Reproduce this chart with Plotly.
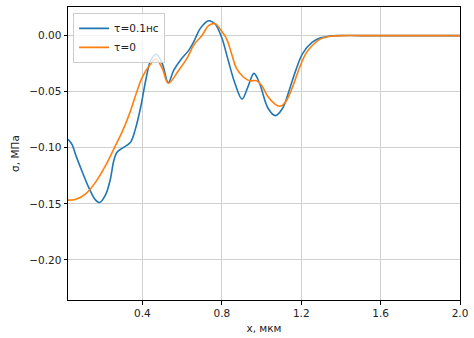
import plotly.graph_objects as go

# τ=0.1нс (blue)
x_blue = [0.025, 0.045, 0.065, 0.098, 0.131, 0.164, 0.184, 0.214, 0.239, 0.255, 0.272, 0.297,
          0.339, 0.364, 0.392, 0.417, 0.442, 0.47, 0.5, 0.53, 0.558, 0.595, 0.633, 0.66, 0.69,
          0.733, 0.766, 0.799, 0.832, 0.866, 0.902, 0.932, 0.962, 0.99, 1.032, 1.07, 1.107,
          1.14, 1.173, 1.207, 1.256, 1.298, 1.34, 1.38, 1.5, 1.7, 2.0]
y_blue = [-0.0924, -0.097, -0.107, -0.122, -0.136, -0.1467, -0.1488, -0.142, -0.1276, -0.112,
          -0.104, -0.1005, -0.0953, -0.0836, -0.063, -0.0396, -0.022, -0.0167, -0.025, -0.042,
          -0.0308, -0.021, -0.0132, -0.005, 0.006, 0.0132, 0.0103, -0.0015, -0.022, -0.0425,
          -0.0566, -0.0455, -0.0337, -0.0425, -0.0645, -0.0713, -0.0645, -0.0484, -0.0308,
          -0.0161, -0.0059, -0.002, -0.0006, 0.0, 0.0, 0.0, 0.0]

# τ=0 (orange)
x_orange = [0.025, 0.065, 0.114, 0.164, 0.214, 0.264, 0.30, 0.334, 0.367, 0.40, 0.442, 0.467,
            0.5, 0.53, 0.583, 0.625, 0.66, 0.70, 0.733, 0.766, 0.791, 0.824, 0.849, 0.874,
            0.907, 0.94, 0.974, 0.999, 1.032, 1.065, 1.093, 1.123, 1.157, 1.19, 1.223, 1.256,
            1.298, 1.35, 1.42, 1.5, 1.7, 2.0]
y_orange = [-0.1467, -0.1459, -0.141, -0.1306, -0.116, -0.098, -0.085, -0.070, -0.0525, -0.0367,
            -0.025, -0.0205, -0.0293, -0.0425, -0.0308, -0.020, -0.008, 0.0, 0.0088, 0.0108,
            0.0059, -0.0029, -0.0161, -0.0293, -0.0367, -0.0402, -0.0402, -0.044, -0.0543,
            -0.0607, -0.063, -0.0587, -0.0455, -0.0293, -0.0161, -0.0088, -0.0029, -0.0006,
            0.0, 0.0, 0.0, 0.0]

x_ticks = [0.4, 0.8, 1.2, 1.6, 2.0]
y_ticks = [0.0, -0.05, -0.10, -0.15, -0.20]

fig = go.Figure()
fig.add_trace(go.Scatter(x=x_blue, y=y_blue, mode="lines", name="τ=0.1нс",
                         line=dict(color="#1f77b4", width=1.6, shape="spline", smoothing=1.0)))
fig.add_trace(go.Scatter(x=x_orange, y=y_orange, mode="lines", name="τ=0",
                         line=dict(color="#ff7f0e", width=1.6, shape="spline", smoothing=1.0)))

axis_common = dict(showgrid=True, gridcolor="#d0d0d0", gridwidth=0.8, showline=True,
                   linecolor="black", linewidth=1, mirror=True, ticks="outside",
                   ticklen=3.5, tickcolor="black", zeroline=False,
                   tickfont=dict(family="DejaVu Sans", size=10.5, color="#222"))

fig.update_layout(
    width=474, height=338,
    margin=dict(l=68, r=10, t=6, b=35),
    plot_bgcolor="white", paper_bgcolor="white",
    font=dict(family="DejaVu Sans", size=10, color="#222"),
    xaxis=dict(range=[0.025, 2.0], tickvals=x_ticks, ticktext=[f"{v:.1f}" for v in x_ticks],
               title=dict(text="x, мкм", standoff=6, font=dict(size=10.5)), **axis_common),
    yaxis=dict(range=[-0.2357, 0.0255], tickvals=y_ticks, tickformat=".2f",
               title=dict(text="σ, МПа", standoff=7, font=dict(size=10.5)), **axis_common),
    legend=dict(x=0.013, y=0.98, xanchor="left", yanchor="top", bgcolor="rgba(255,255,255,0.8)",
                bordercolor="#cccccc", borderwidth=1, font=dict(size=10.5), tracegroupgap=0,
                itemwidth=30),
    showlegend=True,
)

fig.write_html("out.html", config={"displayModeBar": False},
               post_script="document.body.style.margin='0';")
